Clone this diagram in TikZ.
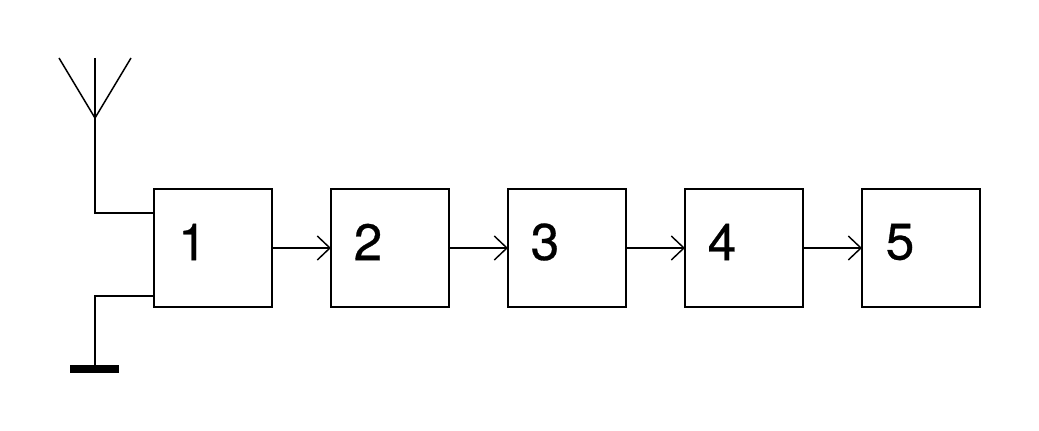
\documentclass[tikz,border=0pt]{standalone}
\usepackage{fontspec}
\setmainfont{TeX Gyre Heros}[FakeBold=0.6]
\usetikzlibrary{arrows.meta}
\tikzset{x=0.75pt,y=-0.75pt,
  block/.style={draw,line width=1.1pt,minimum width=88.5pt,minimum height=88.5pt,inner sep=0pt,outer sep=0pt},
  lbl/.style={font=\fontsize{38.5}{38.5}\selectfont,inner sep=0pt,anchor=center},
  wire/.style={line width=1.1pt},
  flow/.style={line width=1.1pt,-{Straight Barb[length=9.5pt,width=18pt,line width=1.1pt]}}}
\begin{document}
\begin{tikzpicture}
\useasboundingbox (0,0) rectangle (1039,431);
\fill[white] (0,0) rectangle (1039,431);
\node[block] (b1) at (213,248) {};
\node[block] (b2) at (390,248) {};
\node[block] (b3) at (567,248) {};
\node[block] (b4) at (744,248) {};
\node[block] (b5) at (921,248) {};
\node[lbl] (t1) at (192.5,242) {1};
\node[lbl] (t2) at (368,242) {2};
\node[lbl] (t3) at (545,242) {3};
\node[lbl] (t4) at (722,242) {4};
\node[lbl] (t5) at (900,242) {5};
\foreach \a/\b in {b1/b2,b2/b3,b3/b4,b4/b5}{\draw[flow] (\a.east) -- (\b.west);}
\coordinate (ant) at (95,118);
\coordinate (antL) at (59,58);
\coordinate (antM) at (95,58);
\coordinate (antR) at (131,58);
\coordinate (c1) at (95,213);
\coordinate (c2) at (95,296);
\coordinate (g) at (95,369);
\draw[wire] (antL) -- (ant) -- (antR);
\draw[wire] (antM) -- (ant) -- (c1) -- (c1 -| b1.west);
\draw[wire] (c2 -| b1.west) -- (c2) -- (g);
\draw[line width=6pt] (70,369) -- (119,369);
\end{tikzpicture}
\end{document}
